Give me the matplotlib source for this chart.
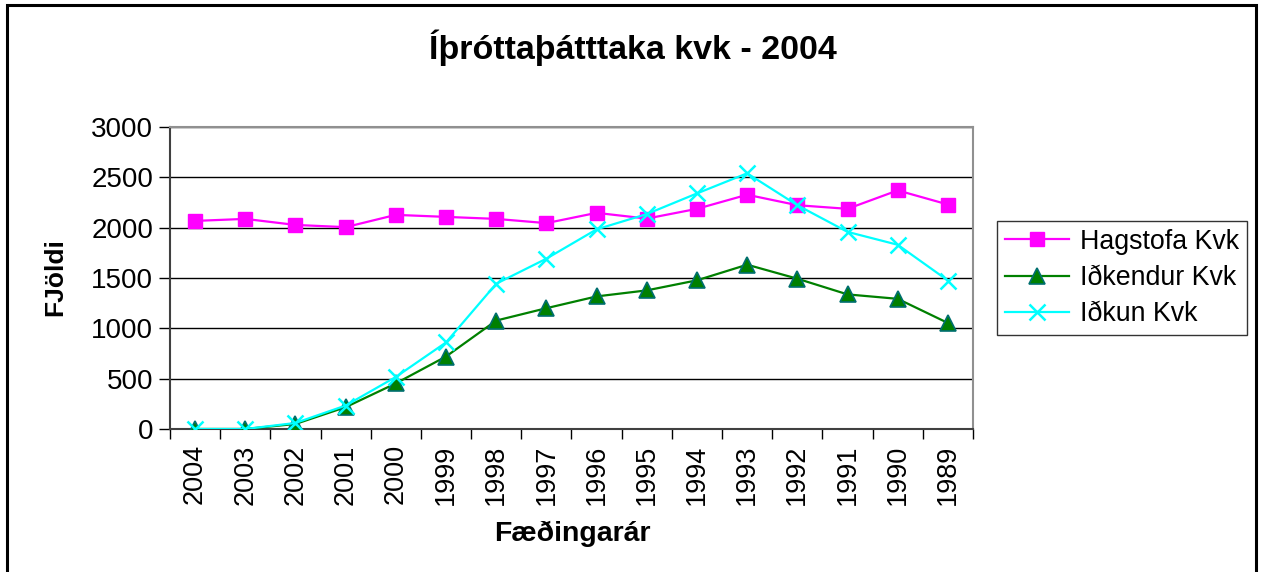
import matplotlib.pyplot as plt
import matplotlib.patches as patches
import numpy as np

years = ['2004', '2003', '2002', '2001', '2000', '1999', '1998', '1997',
         '1996', '1995', '1994', '1993', '1992', '1991', '1990', '1989']
hagstofa = [2067, 2087, 2027, 2005, 2127, 2107, 2087, 2045,
            2147, 2090, 2187, 2327, 2223, 2187, 2370, 2230]
idkendur = [0, 0, 50, 217, 453, 720, 1077, 1200,
            1317, 1377, 1477, 1632, 1493, 1337, 1293, 1053]
idkun = [0, 0, 60, 233, 517, 860, 1443, 1692,
         1983, 2135, 2340, 2540, 2223, 1958, 1830, 1475]

plt.rcParams['font.family'] = ['Liberation Sans', 'DejaVu Sans']

fig = plt.figure(figsize=(12.61, 5.72), dpi=100)
ax = fig.add_axes([0.1348, 0.25, 0.7716 - 0.1348, 0.778 - 0.25])

x = np.arange(len(years))
ax.plot(x, hagstofa, color='#FF00FF', lw=1.6, marker='s', ms=10,
        mfc='#FF00FF', mec='#FF00FF', label='Hagstofa Kvk', zorder=3)
ax.plot(x, idkendur, color='#008000', lw=1.6, marker='^', ms=11,
        mfc='#008000', mec='#006f6f', mew=1.2, label='Iðkendur Kvk', zorder=4)
ax.plot(x, idkun, color='#00FFFF', lw=1.6, marker='x', ms=11.5, mew=1.8,
        label='Iðkun Kvk', zorder=5)

ax.set_xlim(-0.5, len(years) - 0.5)
ax.set_ylim(0, 3000)
ax.set_yticks(np.arange(0, 3001, 500))
ax.yaxis.grid(True, color='black', lw=1.0)
ax.set_axisbelow(True)

ax.set_xticks(x)
ax.set_xticklabels(years, rotation=90, fontsize=19.5)
ax.set_xticks(np.arange(-0.5, len(years)), minor=True)
ax.tick_params(axis='x', which='major', length=0, pad=11)
ax.tick_params(axis='x', which='minor', length=7, width=1, direction='out', color='black')
ax.tick_params(axis='y', length=8, width=1, direction='out', labelsize=20, pad=4)

for s in ['top', 'right']:
    ax.spines[s].set_color('#909090')
    ax.spines[s].set_linewidth(1.5)
ax.spines['left'].set_color('#404040')
ax.spines['left'].set_linewidth(1.5)
ax.spines['bottom'].set_color('#404040')
ax.spines['bottom'].set_linewidth(1.5)

fig.text(0.502, 0.916, 'Íþróttaþátttaka kvk - 2004', fontsize=24.5, fontweight='bold',
         ha='center', va='center')
fig.text(0.044, 0.516, 'FJöldi', fontsize=19, fontweight='bold', rotation=90,
         ha='center', va='center')
fig.text(0.454, 0.066, 'Fæðingarár', fontsize=20.5, fontweight='bold',
         ha='center', va='center')

leg = ax.legend(loc='center', bbox_to_anchor=(1122 / 1261, 1 - 278 / 572),
                bbox_transform=fig.transFigure, fontsize=19.3, frameon=True,
                fancybox=False, borderpad=0.3, handlelength=2.4, labelspacing=0.38,
                handletextpad=0.4)
leg.get_frame().set_edgecolor('black')
leg.get_frame().set_linewidth(1.0)

border = patches.Rectangle((7 / 1261, -0.05), (1256 - 7) / 1261, 1 - 5 / 572 + 0.05,
                           transform=fig.transFigure, fill=False, edgecolor='black',
                           lw=2.2, clip_on=False)
fig.patches.append(border)

fig.savefig('out.png', dpi=100)
